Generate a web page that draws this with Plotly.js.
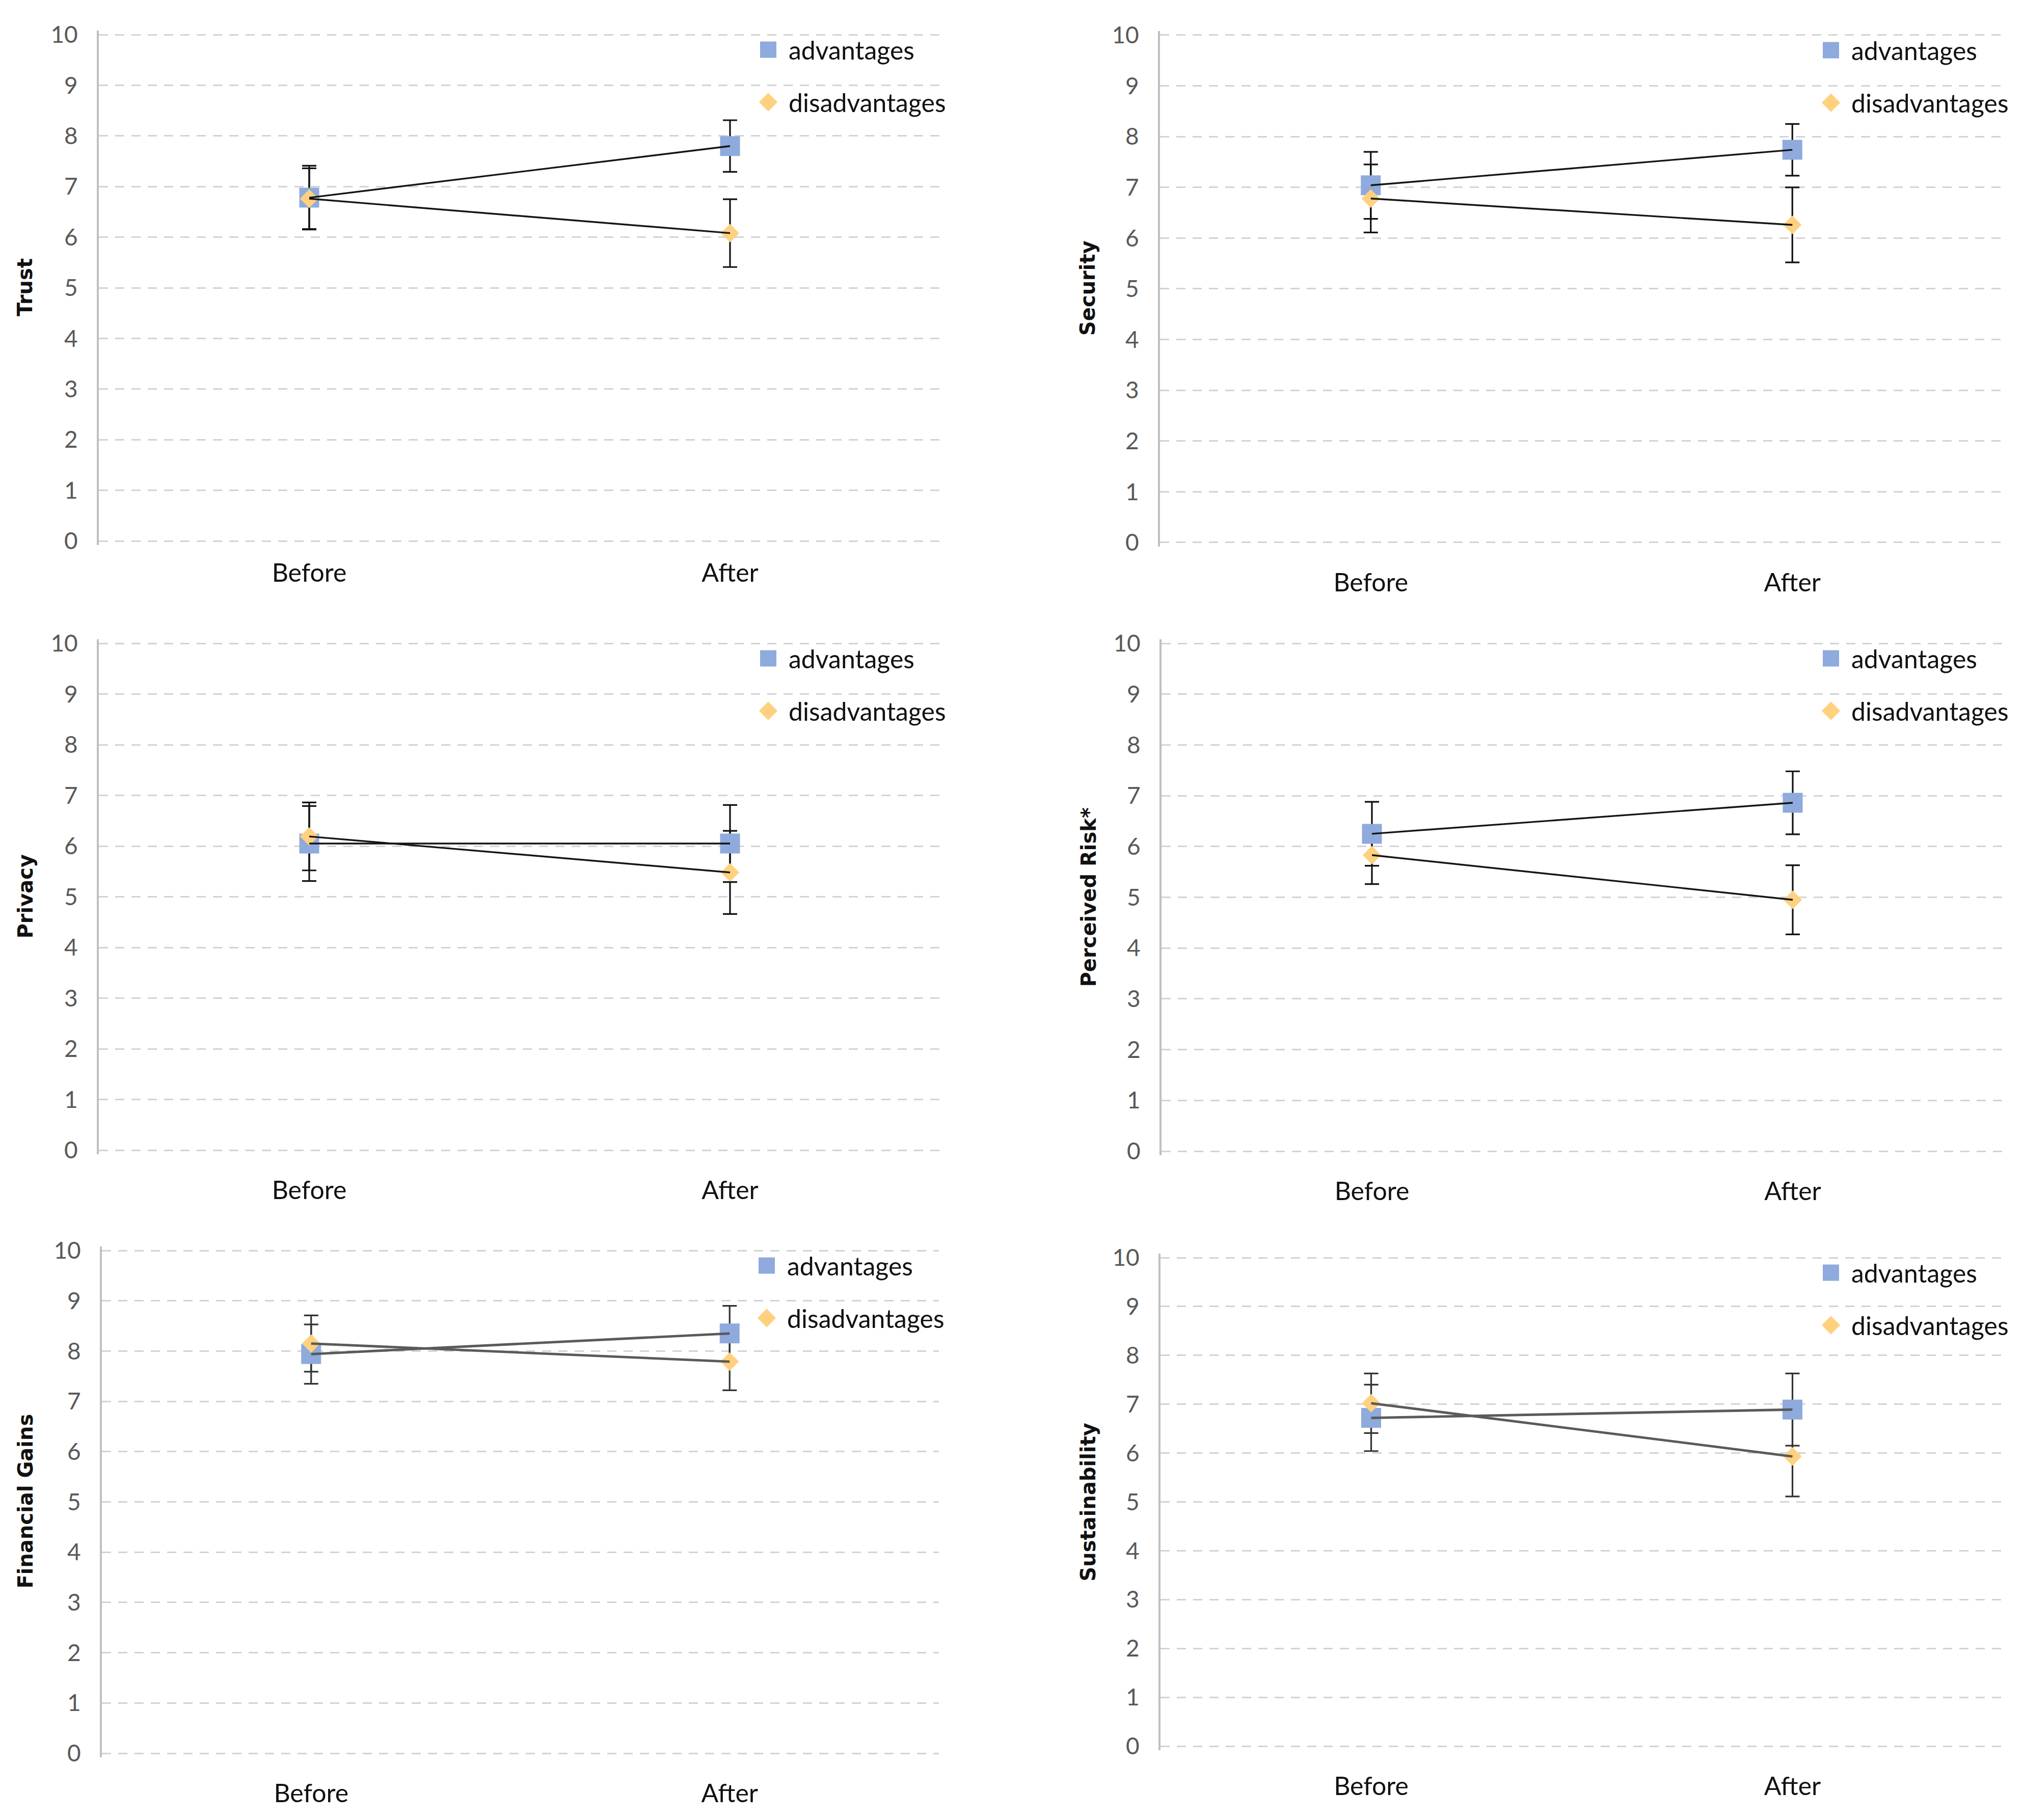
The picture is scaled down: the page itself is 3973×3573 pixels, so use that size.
<!DOCTYPE html>
<html><head><meta charset="utf-8">
<script src="https://cdn.plot.ly/plotly-3.0.1.min.js"></script>
<style>
html,body{margin:0;padding:0;background:#fff}
#outer{width:3973px;height:3573px;position:relative;overflow:hidden}
#wrap{position:absolute;left:0;top:0;width:1987px;height:1787px;transform:scale(2);transform-origin:0 0}
</style>
</head><body>
<div id="outer"><div id="wrap"><div id="chart" style="width:1987px;height:1787px"></div></div></div>
<script>
// ---- data ----
const categories = ["Before", "After"];
const seriesNames = ["advantages", "disadvantages"];
const yTickVals = [0, 1, 2, 3, 4, 5, 6, 7, 8, 9, 10];
const yTickText = ["0", "1", "2", "3", "4", "5", "6", "7", "8", "9", "10"];
const yTitles = ["Trust", "Security", "Privacy", "Perceived Risk*", "Financial Gains", "Sustainability"];

const trustAdv = [6.78, 7.80],      trustAdvErr = [0.63, 0.51];
const trustDis = [6.76, 6.08],      trustDisErr = [0.60, 0.67];
const securityAdv = [7.04, 7.74],   securityAdvErr = [0.66, 0.51];
const securityDis = [6.78, 6.26],   securityDisErr = [0.67, 0.74];
const privacyAdv = [6.05, 6.05],    privacyAdvErr = [0.74, 0.76];
const privacyDis = [6.19, 5.48],    privacyDisErr = [0.67, 0.82];
const riskAdv = [6.25, 6.86],       riskAdvErr = [0.63, 0.62];
const riskDis = [5.83, 4.95],       riskDisErr = [0.57, 0.68];
const financialAdv = [7.94, 8.35],  financialAdvErr = [0.59, 0.55];
const financialDis = [8.15, 7.79],  financialDisErr = [0.56, 0.57];
const sustainAdv = [6.72, 6.89],    sustainAdvErr = [0.68, 0.74];
const sustainDis = [7.02, 5.93],    sustainDisErr = [0.61, 0.82];

const advSets = [trustAdv, securityAdv, privacyAdv, riskAdv, financialAdv, sustainAdv];
const advErrSets = [trustAdvErr, securityAdvErr, privacyAdvErr, riskAdvErr, financialAdvErr, sustainAdvErr];
const disSets = [trustDis, securityDis, privacyDis, riskDis, financialDis, sustainDis];
const disErrSets = [trustDisErr, securityDisErr, privacyDisErr, riskDisErr, financialDisErr, sustainDisErr];

// ---- layout (half-scale px, page is scaled x2) ----
const W = 1987, H = 1787;
const boxes = [
  {l: 97,   r: 923,  t: 34,     b: 531,  titleX: 25,   std: 10},
  {l: 1138.5, r: 1966, t: 34.5, b: 532.5, titleX: 1068, std: 18},
  {l: 97,   r: 923,  t: 631.5,  b: 1129, titleX: 25,   std: 18},
  {l: 1140, r: 1966, t: 631.5,  b: 1130, titleX: 1068, std: 18},
  {l: 100,  r: 921.5, t: 1227.5, b: 1721, titleX: 25,  std: 18},
  {l: 1139, r: 1966, t: 1234.5, b: 1714, titleX: 1068, std: 18}
];
const PAD = 0.08; // small range padding so the 0 and 10 gridlines are drawn
const advColor = "#8FAADC", disColor = "#FFD17F";
const tickFont = {family: "Lato, 'Open Sans', sans-serif", size: 23, color: "#595959"};
const catFont = {family: "Lato, 'Open Sans', sans-serif", size: 25, color: "#111111"};
const legFont = {family: "Lato, 'Open Sans', sans-serif", size: 25, color: "#111111"};
const titleFont = {family: "'DejaVu Sans', Verdana, sans-serif", size: 20, color: "#111111", weight: "bold"};

const traces = [];
const layout = {
  width: W, height: H,
  margin: {l: 0, r: 0, t: 0, b: 0},
  paper_bgcolor: "#ffffff", plot_bgcolor: "#ffffff",
  showlegend: true,
  annotations: []
};

boxes.forEach((bx, i) => {
  const n = i === 0 ? "" : String(i + 1);
  const xa = "x" + n, ya = "y" + n;
  const legKey = i === 0 ? "legend" : "legend" + (i + 1);
  const soft = i >= 4;
  const lineColor = soft ? "#5a5a5a" : "#151515";
  const lineWidth = soft ? 2.4 : 1.7;
  const errColor = soft ? "#333333" : "#111111";
  const unit = (bx.b - bx.t) / 10;
  const tPx = bx.t - PAD * unit, bPx = bx.b + PAD * unit;

  const errSpec = (arr) => ({type: "data", array: arr, visible: true, color: errColor, thickness: 1.6, width: 7});

  // error bars (bottom layer)
  traces.push({type: "scatter", mode: "markers", x: categories, y: advSets[i], xaxis: xa, yaxis: ya,
    marker: {size: 1, opacity: 0}, error_y: errSpec(advErrSets[i]), showlegend: false, hoverinfo: "skip"});
  traces.push({type: "scatter", mode: "markers", x: categories, y: disSets[i], xaxis: xa, yaxis: ya,
    marker: {size: 1, opacity: 0}, error_y: errSpec(disErrSets[i]), showlegend: false, hoverinfo: "skip"});
  // markers (legend entries)
  traces.push({type: "scatter", mode: "markers", name: seriesNames[0], x: categories, y: advSets[i],
    xaxis: xa, yaxis: ya, legend: legKey, legendgroup: "a" + i,
    marker: {symbol: "square", size: 19.5, color: advColor, line: {width: 0}}});
  traces.push({type: "scatter", mode: "markers", name: seriesNames[1], x: categories, y: disSets[i],
    xaxis: xa, yaxis: ya, legend: legKey, legendgroup: "d" + i,
    marker: {symbol: "diamond", size: 14, color: disColor, line: {width: 0}}});
  // connecting lines (top layer)
  traces.push({type: "scatter", mode: "lines", x: categories, y: advSets[i], xaxis: xa, yaxis: ya,
    line: {color: lineColor, width: lineWidth}, showlegend: false, hoverinfo: "skip"});
  traces.push({type: "scatter", mode: "lines", x: categories, y: disSets[i], xaxis: xa, yaxis: ya,
    line: {color: lineColor, width: lineWidth}, showlegend: false, hoverinfo: "skip"});

  layout["xaxis" + n] = {
    domain: [bx.l / W, bx.r / W], anchor: ya,
    type: "category", range: [-0.5, 1.5],
    showgrid: false, zeroline: false, showline: false, ticks: "",
    tickfont: catFont, ticklabelstandoff: bx.std, fixedrange: true
  };
  layout["yaxis" + n] = {
    domain: [1 - bPx / H, 1 - tPx / H], anchor: xa,
    range: [-PAD, 10 + PAD], tickvals: yTickVals, ticktext: yTickText,
    showgrid: true, gridcolor: "#d3d3d3", gridwidth: 1.5, griddash: "9px,7px",
    zeroline: false, showline: true, linecolor: "#c0c0c0", linewidth: 2,
    ticks: "", tickfont: tickFont, ticklabelstandoff: 14, fixedrange: true
  };
  layout[legKey] = {
    x: (bx.r - 189) / W, y: 1 - (bx.t - 8) / H, xanchor: "left", yanchor: "top",
    bgcolor: "rgba(0,0,0,0)", borderwidth: 0, font: legFont,
    traceorder: "grouped", tracegroupgap: 16, itemsizing: "trace", itemwidth: 30
  };
  layout.annotations.push({
    xref: "paper", yref: "paper", x: bx.titleX / W, y: 1 - ((bx.t + bx.b) / 2) / H,
    xanchor: "center", yanchor: "middle", text: yTitles[i], textangle: -90,
    showarrow: false, font: titleFont
  });
});

Plotly.newPlot("chart", traces, layout, {staticPlot: true, displayModeBar: false});
</script>
</body></html>
